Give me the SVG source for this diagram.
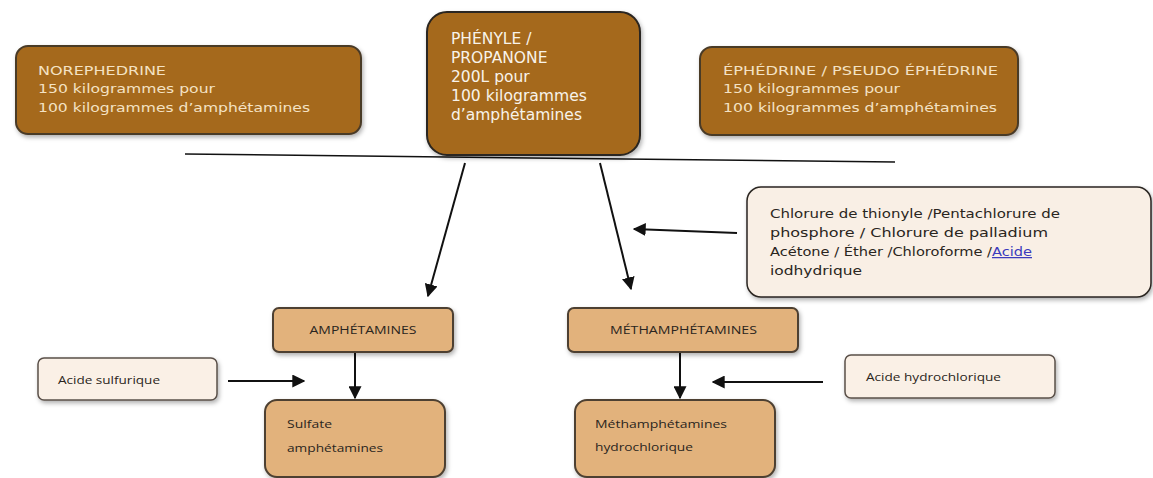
<svg xmlns="http://www.w3.org/2000/svg" width="1153" height="478" viewBox="0 0 1153 478">
<style>
.dark{fill:#a5691f;stroke:#4a3a28;stroke-width:2}
.tan{fill:#e2b27b;stroke:#4d3f30;stroke-width:2}
.light{fill:#faf0e6;stroke:#5a5048;stroke-width:1.5}
.ltxt{font-family:"DejaVu Sans",Verdana,sans-serif;font-size:12.5px;fill:#f4e2c4}
.ptxt{font-family:"DejaVu Sans",Verdana,sans-serif;font-size:15.5px;fill:#f8f3ea}
.ctxt{font-family:"DejaVu Sans",Verdana,sans-serif;font-size:12.5px;fill:#2a2520}
.stxt{font-family:"Open Sans","Liberation Sans",sans-serif;font-size:11px;fill:#2a2520}
.conn{stroke:#111;stroke-width:2;fill:none}
</style>
<defs>
<filter id="sh" x="-10%" y="-10%" width="120%" height="130%">
<feDropShadow dx="1.5" dy="2.5" stdDeviation="2" flood-color="#000" flood-opacity="0.3"/>
</filter>
<marker id="ah" viewBox="0 0 10 10" refX="9" refY="5" markerWidth="6.5" markerHeight="6.5" markerUnits="strokeWidth" orient="auto">
<path d="M0,0 L10,5 L0,10 z" fill="#111"/>
</marker>
</defs>
<rect width="1153" height="478" fill="#fff"/>

<g id="connectors">
<line x1="185" y1="154" x2="895" y2="162" stroke="#111" stroke-width="1.5"/>
<line class="conn" x1="465" y1="163" x2="428" y2="296" marker-end="url(#ah)"/>
<line class="conn" x1="600" y1="163" x2="631" y2="289" marker-end="url(#ah)"/>
<line class="conn" x1="737" y1="233" x2="634" y2="229" marker-end="url(#ah)"/>
<line class="conn" x1="228" y1="381" x2="304" y2="381" marker-end="url(#ah)"/>
<line class="conn" x1="355" y1="352" x2="355" y2="398" marker-end="url(#ah)"/>
<line class="conn" x1="680" y1="352" x2="680" y2="398" marker-end="url(#ah)"/>
<line class="conn" x1="823" y1="382" x2="713" y2="382" marker-end="url(#ah)"/>
</g>

<g id="norephedrine">
<rect class="dark" x="16" y="46" width="345" height="88" rx="12" filter="url(#sh)"/>
<text class="ltxt" x="38" y="75" textLength="128" lengthAdjust="spacingAndGlyphs">NOREPHEDRINE</text>
<text class="ltxt" x="38" y="93" textLength="177" lengthAdjust="spacingAndGlyphs">150 kilogrammes pour</text>
<text class="ltxt" x="38" y="112" textLength="272" lengthAdjust="spacingAndGlyphs">100 kilogrammes d’amphétamines</text>
</g>

<g id="phenyle">
<rect x="427" y="12" width="213" height="143" rx="20" fill="#a5691f" stroke="#2a2520" stroke-width="2" filter="url(#sh)"/>
<text class="ptxt" x="451" y="44">PHÉNYLE /</text>
<text class="ptxt" x="451" y="63">PROPANONE</text>
<text class="ptxt" x="451" y="82">200L pour</text>
<text class="ptxt" x="451" y="101" textLength="136" lengthAdjust="spacingAndGlyphs">100 kilogrammes</text>
<text class="ptxt" x="451" y="120">d’amphétamines</text>
</g>

<g id="ephedrine">
<rect class="dark" x="700" y="47" width="318" height="88" rx="12" filter="url(#sh)"/>
<text class="ltxt" x="723" y="75" textLength="275" lengthAdjust="spacingAndGlyphs">ÉPHÉDRINE / PSEUDO ÉPHÉDRINE</text>
<text class="ltxt" x="723" y="93" textLength="177" lengthAdjust="spacingAndGlyphs">150 kilogrammes pour</text>
<text class="ltxt" x="723" y="112" textLength="274" lengthAdjust="spacingAndGlyphs">100 kilogrammes d’amphétamines</text>
</g>

<g id="reactifs">
<rect x="747" y="187" width="404" height="110" rx="14" fill="#f9efe5" stroke="#2a2520" stroke-width="1.5" filter="url(#sh)"/>
<text class="ctxt" x="770" y="218" textLength="290" lengthAdjust="spacingAndGlyphs">Chlorure de thionyle /Pentachlorure de</text>
<text class="ctxt" x="770" y="237" textLength="278" lengthAdjust="spacingAndGlyphs">phosphore / Chlorure de palladium</text>
<text class="ctxt" x="770" y="256" textLength="262" lengthAdjust="spacingAndGlyphs">Acétone / Éther /Chloroforme /<tspan fill="#3b3bbd" text-decoration="underline">Acide</tspan></text>
<text class="ctxt" x="770" y="275" textLength="92" lengthAdjust="spacingAndGlyphs">iodhydrique</text>
</g>

<g id="amphetamines">
<rect class="tan" x="273" y="308" width="180" height="44" rx="6" filter="url(#sh)"/>
<text class="stxt" x="363" y="334" text-anchor="middle" textLength="107" lengthAdjust="spacingAndGlyphs">AMPHÉTAMINES</text>
</g>

<g id="acide-sulfurique">
<rect class="light" x="38" y="358" width="179" height="42" rx="6" filter="url(#sh)"/>
<text class="stxt" x="58" y="384" textLength="102" lengthAdjust="spacingAndGlyphs">Acide sulfurique</text>
</g>

<g id="sulfate">
<rect class="tan" x="265" y="400" width="180" height="77" rx="12" filter="url(#sh)"/>
<text class="stxt" x="287" y="428" textLength="45" lengthAdjust="spacingAndGlyphs">Sulfate</text>
<text class="stxt" x="287" y="452" textLength="96" lengthAdjust="spacingAndGlyphs">amphétamines</text>
</g>

<g id="methamphetamines">
<rect class="tan" x="568" y="308" width="230" height="44" rx="6" filter="url(#sh)"/>
<text class="stxt" x="610" y="334" textLength="147" lengthAdjust="spacingAndGlyphs">MÉTHAMPHÉTAMINES</text>
</g>

<g id="acide-hydrochlorique">
<rect class="light" x="845" y="355" width="210" height="43" rx="6" filter="url(#sh)"/>
<text class="stxt" x="866" y="381" textLength="135" lengthAdjust="spacingAndGlyphs">Acide hydrochlorique</text>
</g>

<g id="meth-hydrochlorique">
<rect class="tan" x="575" y="400" width="200" height="77" rx="12" filter="url(#sh)"/>
<text class="stxt" x="595" y="428" textLength="132" lengthAdjust="spacingAndGlyphs">Méthamphétamines</text>
<text class="stxt" x="595" y="451" textLength="98" lengthAdjust="spacingAndGlyphs">hydrochlorique</text>
</g>
</svg>
